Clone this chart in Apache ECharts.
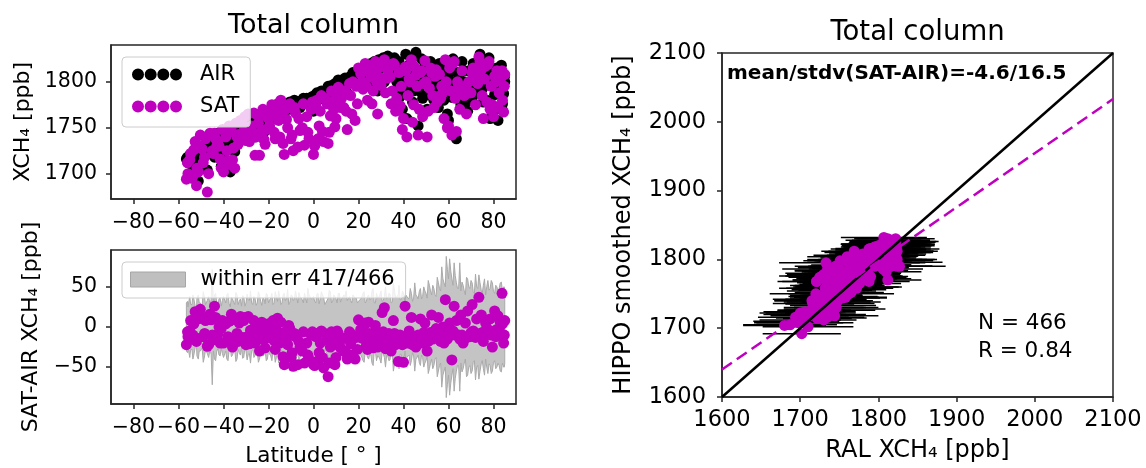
<!DOCTYPE html>
<html>
<head>
<meta charset="utf-8">
<title>Total column</title>
<script src="https://cdn.jsdelivr.net/npm/echarts@6/dist/echarts.min.js"></script>
<style>
  html, body { margin: 0; padding: 0; background: #fff; }
  #chart { width: 1146px; height: 468px; }
</style>
</head>
<body>
<div id="chart"></div>
<script>
// latitude of each profile [deg] (two blocks of flights)
const lat = [
  -56.5, -55.8, -55.0, -54.0, -53.2, -52.0, -51.2, -50.3, -49.5, -48.4, -47.2, -46.0, -45.0, -44.0, -43.0, -42.0, -41.0, -40.0,
  -39.0, -38.0, -37.0, -36.0, -35.0, -34.0, -33.0, -32.0, -31.0, -30.0, -29.0, -28.0, -27.0, -26.0, -25.0, -24.0, -23.0, -22.0, -21.0, -20.0,
  -19.0, -18.0, -17.0, -16.0, -15.0, -14.0, -13.0, -12.0, -11.0, -10.0, -9.0, -8.0, -7.0, -6.0, -5.0, -4.0, -3.0, -2.0, -1.0,
  0.0, 1.0, 2.0, 3.0, 4.0, 5.0, 6.5, 7.5, 8.5, 9.5, 10.5, 11.5, 12.5, 13.5, 15.0, 16.0, 17.0, 18.5, 20.0,
  21.0, 22.0, 23.0, 24.0, 25.0, 26.0, 27.5, 28.5, 29.5, 30.5, 31.5, 32.5, 33.5, 34.5, 35.5, 36.5, 37.7, 38.5, 39.5, 40.7, 41.5, 42.5, 43.5, 44.5,
  45.5, 46.5, 47.5, 48.5, 49.5, 50.5, 51.5, 52.5, 53.5, 54.5, 55.5, 56.5, 57.5, 58.6, 59.5, 60.5, 61.5, 62.5, 63.5, 64.5,
  65.5, 66.5, 67.5, 68.5, 69.5, 70.5, 71.5, 72.5, 73.5, 74.6, 75.5, 76.5, 77.5, 78.5, 79.5, 80.5, 81.5, 82.0, 83.0, 83.8, 84.5, 85.0,
  // second block
  -56.0, -54.6, -53.6, -52.6, -51.8, -50.8, -49.0, -48.0, -46.6, -45.5, -44.5, -43.5, -42.5, -41.5, -40.5, -38.5, -37.5,
  -36.5, -35.5, -34.5, -33.5, -32.5, -31.5, -30.5, -29.5, -28.5, -27.5, -26.5, -25.5, -24.5, -23.5, -22.5, -21.5, -20.5,
  -19.5, -18.5, -17.5, -16.5, -15.5, -14.5, -13.5, -12.5, -11.5, -10.5, -9.5, -8.5, -6.5, -4.5, -2.5, -0.5,
  0.5, 1.5, 2.5, 3.5, 4.5, 6.0, 7.0, 8.0, 9.0, 10.0, 11.0, 12.0, 14.0, 14.5, 16.5, 17.5, 19.0, 19.5,
  21.5, 22.5, 23.5, 24.5, 25.5, 26.5, 27.0, 28.0, 29.0, 30.0, 31.0, 32.0, 33.0, 34.0, 35.0, 36.0, 37.0, 38.0, 39.0, 40.0,
  41.0, 42.0, 43.0, 44.0, 45.0, 46.0, 47.0, 48.0, 49.0, 50.0, 51.0, 52.0, 53.0, 54.0, 55.0, 56.0, 57.0, 58.0, 59.0, 60.0,
  61.0, 62.0, 63.0, 64.0, 65.0, 66.0, 67.0, 68.0, 69.0, 70.0, 71.0, 72.0, 73.0, 74.0, 75.0, 76.0, 77.0, 78.0, 79.0, 80.0,
  81.0, 82.5, 83.5, 84.0, 84.8
];
// HIPPO (aircraft) smoothed XCH4 [ppb]
const air = [
  1716, 1712, 1720, 1710, 1722, 1705, 1692, 1720, 1715, 1726, 1704, 1728, 1735, 1718, 1742, 1730, 1708, 1722,
  1736, 1726, 1702, 1740, 1724, 1748, 1738, 1752, 1744, 1758, 1752, 1746, 1755, 1740, 1762, 1750, 1758, 1745, 1762, 1756,
  1765, 1760, 1766, 1765, 1760, 1772, 1768, 1774, 1770, 1776, 1774, 1778, 1776, 1772, 1780, 1776, 1782, 1778, 1780,
  1768, 1786, 1780, 1788, 1784, 1790, 1795, 1788, 1794, 1798, 1792, 1800, 1796, 1802, 1788, 1804, 1800, 1798, 1806,
  1812, 1804, 1815, 1808, 1818, 1796, 1820, 1790, 1814, 1800, 1800, 1822, 1824, 1806, 1812, 1790, 1812, 1784, 1770, 1790, 1760, 1808, 1812, 1790,
  1832, 1752, 1800, 1782, 1818, 1770, 1805, 1795, 1780, 1815, 1772, 1800, 1788, 1790, 1765, 1810, 1783, 1796, 1738, 1805,
  1775, 1812, 1790, 1768, 1800, 1782, 1815, 1795, 1790, 1798, 1778, 1812, 1825, 1760, 1800, 1786, 1815, 1758, 1796, 1770, 1787, 1800,
  1718, 1714, 1708, 1716, 1720, 1712, 1724, 1730, 1722, 1733, 1738, 1726, 1744, 1736, 1740, 1742, 1745,
  1730, 1748, 1744, 1750, 1745, 1755, 1750, 1760, 1756, 1762, 1758, 1754, 1764, 1760, 1766, 1758, 1768,
  1764, 1770, 1762, 1772, 1766, 1774, 1770, 1776, 1772, 1778, 1774, 1780, 1778, 1782, 1780, 1784,
  1778, 1788, 1784, 1790, 1786, 1792, 1790, 1796, 1792, 1798, 1802, 1798, 1804, 1800, 1806, 1810, 1808, 1804,
  1814, 1810, 1818, 1812, 1820, 1816, 1822, 1812, 1824, 1818, 1826, 1815, 1828, 1820, 1810, 1826, 1800, 1822, 1815, 1804,
  1830, 1798, 1820, 1778, 1828, 1812, 1790, 1825, 1805, 1818, 1786, 1822, 1800, 1812, 1790, 1820, 1805, 1780, 1815, 1758,
  1800, 1825, 1792, 1810, 1785, 1822, 1800, 1778, 1812, 1795, 1820, 1788, 1808, 1830, 1792, 1814, 1780, 1826, 1805, 1768,
  1812, 1792, 1818, 1776, 1805
];
// RAL (satellite) XCH4 [ppb]
const sat = [
  1694, 1700, 1715, 1695, 1726, 1687, 1702, 1742, 1727, 1718, 1680, 1744, 1725, 1744, 1730, 1730, 1706, 1702,
  1740, 1714, 1710, 1715, 1706, 1740, 1743, 1738, 1752, 1736, 1765, 1742, 1745, 1720, 1764, 1720, 1764, 1737, 1748, 1760,
  1762, 1768, 1738, 1776, 1740, 1764, 1721, 1759, 1772, 1738, 1725, 1766, 1729, 1747, 1750, 1731, 1762, 1738, 1770,
  1721, 1774, 1738, 1768, 1746, 1782, 1733, 1763, 1779, 1751, 1787, 1780, 1782, 1772, 1748, 1798, 1765, 1758, 1815,
  1809, 1792, 1820, 1780, 1810, 1776, 1822, 1765, 1804, 1818, 1824, 1804, 1816, 1776, 1820, 1768, 1769, 1774, 1748, 1816, 1740, 1803, 1824, 1775,
  1807, 1742, 1810, 1762, 1823, 1740, 1793, 1810, 1772, 1813, 1784, 1782, 1788, 1824, 1750, 1815, 1742, 1822, 1746, 1795,
  1790, 1792, 1795, 1788, 1788, 1810, 1807, 1805, 1827, 1813, 1760, 1817, 1819, 1770, 1775, 1806, 1812, 1772, 1802, 1812, 1767, 1808,
  1712, 1722, 1698, 1735, 1706, 1730, 1712, 1738, 1700, 1742, 1722, 1738, 1735, 1716, 1748, 1725, 1752,
  1746, 1728, 1755, 1732, 1758, 1742, 1762, 1748, 1735, 1752, 1766, 1740, 1755, 1745, 1770, 1732, 1762,
  1752, 1775, 1745, 1768, 1758, 1780, 1733, 1770, 1750, 1776, 1742, 1772, 1760, 1776, 1745, 1778,
  1730, 1780, 1752, 1785, 1735, 1776, 1745, 1790, 1770, 1760, 1794, 1772, 1790, 1768, 1785, 1800, 1795, 1776,
  1800, 1812, 1795, 1818, 1805, 1790, 1812, 1800, 1815, 1796, 1820, 1788, 1812, 1805, 1790, 1818, 1782, 1810, 1795, 1760,
  1812, 1785, 1800, 1756, 1816, 1795, 1770, 1812, 1798, 1800, 1768, 1815, 1785, 1806, 1778, 1808, 1795, 1760, 1800, 1752,
  1790, 1820, 1782, 1800, 1770, 1812, 1785, 1765, 1800, 1788, 1815, 1775, 1798, 1822, 1785, 1803, 1778, 1822, 1795, 1762,
  1800, 1788, 1806, 1780, 1795
];
// error of the difference (grey band) [ppb]
const errDiff = [
  30, 25, 38, 28, 35, 22, 40, 30, 26, 36, 33, 28, 72, 40, 30, 35, 26, 38,
  30, 42, 25, 35, 28, 40, 32, 26, 38, 30, 34, 45, 28, 36, 30, 40, 27, 35, 42, 30,
  36, 28, 44, 32, 38, 30, 42, 35, 28, 40, 33, 45, 30, 38, 34, 42, 30, 40, 35,
  38, 30, 42, 35, 40, 28, 36, 44, 32, 38, 30, 42, 35, 40, 33, 38, 30, 36, 32,
  35, 42, 30, 38, 34, 45, 30, 36, 40, 32, 38, 35, 42, 30, 55, 36, 40, 34, 45, 30, 38, 35, 42, 36,
  40, 35, 48, 38, 45, 36, 52, 40, 48, 38, 55, 45, 60, 50, 72, 85, 60, 80, 55, 48,
  45, 52, 40, 60, 48, 55, 42, 50, 65, 45, 52, 40, 58, 48, 55, 42, 50, 45, 55, 48, 50, 45,
  32, 28, 40, 26, 36, 30, 44, 28, 38, 34, 30, 42, 27, 36, 33, 40, 29,
  37, 31, 43, 28, 35, 39, 26, 41, 33, 30, 38, 27, 44, 32, 36, 29, 40,
  34, 42, 30, 38, 45, 28, 40, 33, 47, 31, 39, 35, 43, 30, 48, 36,
  32, 41, 29, 44, 37, 33, 46, 30, 40, 35, 42, 31, 38, 45, 33, 40, 36, 30,
  38, 44, 32, 40, 35, 48, 30, 42, 37, 45, 33, 50, 36, 41, 31, 46, 38, 52, 34, 43,
  40, 36, 48, 32, 55, 38, 44, 35, 50, 42, 58, 45, 52, 40, 62, 48, 75, 55, 88, 60,
  70, 52, 64, 48, 80, 56, 45, 62, 50, 58, 44, 66, 48, 55, 42, 60, 50, 46, 58, 44,
  52, 48, 56, 45, 50
];
// satellite error (horizontal bars, right panel) [ppb]
const errSat = [
  48, 52, 40, 55, 45, 60, 50, 42, 58, 47, 53, 65, 44, 56, 49, 51, 62, 46,
  55, 43, 58, 48, 52, 40, 60, 45, 50, 54, 42, 57, 47, 53, 44, 59, 49, 45, 55, 50,
  46, 58, 42, 53, 49, 60, 44, 51, 47, 55, 40, 56, 48, 52, 45, 58, 43, 50, 54,
  50, 45, 57, 42, 53, 48, 60, 44, 52, 47, 55, 41, 58, 46, 51, 43, 56, 49, 45,
  52, 47, 58, 43, 50, 55, 46, 53, 41, 57, 48, 52, 44, 59, 47, 51, 42, 56, 49, 53, 45, 58, 47, 50,
  55, 46, 52, 60, 44, 50, 57, 43, 53, 48, 58, 45, 51, 62, 47, 55, 49, 60, 44, 52,
  48, 56, 43, 52, 58, 45, 50, 55, 42, 57, 49, 53, 46, 60, 44, 51, 55, 47, 58, 43, 52, 48,
  50, 44, 57, 47, 53, 42, 59, 46, 52, 55, 43, 58, 48, 51, 45, 60, 49,
  54, 41, 56, 47, 53, 44, 58, 50, 46, 55, 42, 57, 49, 52, 45, 59, 48,
  53, 46, 58, 44, 51, 56, 42, 59, 48, 52, 45, 57, 49, 54, 43, 60,
  47, 50, 55, 44, 58, 46, 52, 49, 56, 42, 54, 48, 59, 45, 51, 57, 44, 50,
  47, 55, 43, 58, 50, 45, 60, 48, 53, 42, 57, 49, 54, 46, 59, 44, 52, 56, 48, 51,
  43, 58, 47, 55, 50, 45, 60, 49, 53, 44, 57, 48, 52, 46, 59, 43, 55, 50, 47, 58,
  45, 53, 49, 56, 42, 60, 48, 51, 55, 44, 57, 47, 53, 50, 46, 58, 43, 52, 49, 56,
  45, 54, 48, 51, 47
];

const latTicks = [-80, -60, -40, -20, 0, 20, 40, 60, 80];
const xchTicks = [1700, 1750, 1800];
const diffTicks = [-50, 0, 50];
// 1:1 line and fitted line (right panel)
const oneToOne = [[1600, 1600], [2100, 2100]];
const fitLine = [[1600, 1640], [2100, 2033]];

const FONT = '"DejaVu Sans", sans-serif';
const MAG = '#bf00bf';
const FRAME = '#262626';
const minus = v => (v < 0 ? '\u2212' + (-v) : String(v));
const plain = v => String(v);

// four dots like the matplotlib scatter legend marker
const dots4 = 'path://' + [6, 18.67, 31.33, 44].map(c =>
  'M' + (c - 6) + ',6 a6,6 0 1,0 12,0 a6,6 0 1,0 -12,0 Z').join(' ');

const airPts = lat.map((v, i) => [v, air[i]]);
const satPts = lat.map((v, i) => [v, sat[i]]);
const diffPts = lat.map((v, i) => [v, sat[i] - air[i]]);
const pairPts = sat.map((v, i) => [v, air[i]]);
const errPts = sat.map((v, i) => [v, air[i], errSat[i]]);
// band goes along latitude, so walk the profiles in latitude order
const order = lat.map((v, i) => i).sort((a, b) => lat[a] - lat[b]);

function axisBase() {
  return {
    type: 'value',
    axisLine: { show: true, onZero: false, lineStyle: { color: FRAME, width: 1.5 } },
    axisTick: { show: true, inside: false, length: 5, lineStyle: { color: FRAME, width: 1.5 } },
    splitLine: { show: false },
    axisLabel: { color: '#000', fontSize: 20.5, fontFamily: FONT },
    nameTextStyle: { color: '#000', fontFamily: FONT }
  };
}

const myChart = echarts.init(document.getElementById('chart'), null, { renderer: 'canvas' });

const option = {
  animation: false,
  backgroundColor: '#fff',
  textStyle: { fontFamily: FONT },
  grid: [
    { left: 111, top: 45, width: 405, height: 154, show: true, borderColor: FRAME, borderWidth: 1.5 },
    { left: 111, top: 250, width: 405, height: 154, show: true, borderColor: FRAME, borderWidth: 1.5 },
    { left: 722, top: 53, width: 391, height: 348, show: true, borderColor: FRAME, borderWidth: 1.5 }
  ],
  xAxis: [
    Object.assign(axisBase(), {
      gridIndex: 0, min: -90, max: 90,
      axisLabel: { color: '#000', fontSize: 20.5, fontFamily: FONT, margin: 13, customValues: latTicks, formatter: minus },
      axisTick: { show: true, length: 5, customValues: latTicks, lineStyle: { color: FRAME, width: 1.5 } }
    }),
    Object.assign(axisBase(), {
      gridIndex: 1, min: -90, max: 90,
      name: 'Latitude [ \u00b0 ]', nameLocation: 'middle', nameGap: 41,
      nameTextStyle: { color: '#000', fontSize: 21.5, fontFamily: FONT },
      axisLabel: { color: '#000', fontSize: 20.5, fontFamily: FONT, margin: 13, customValues: latTicks, formatter: minus },
      axisTick: { show: true, length: 5, customValues: latTicks, lineStyle: { color: FRAME, width: 1.5 } }
    }),
    Object.assign(axisBase(), {
      gridIndex: 2, min: 1600, max: 2100, interval: 100,
      name: 'RAL XCH\u2084 [ppb]', nameLocation: 'middle', nameGap: 42,
      nameTextStyle: { color: '#000', fontSize: 24, fontFamily: FONT },
      axisLabel: { color: '#000', fontSize: 22.5, fontFamily: FONT, margin: 12, formatter: plain }
    })
  ],
  yAxis: [
    Object.assign(axisBase(), {
      gridIndex: 0, min: 1672.5, max: 1840,
      name: 'XCH\u2084 [ppb]', nameLocation: 'middle', nameGap: 77,
      nameTextStyle: { color: '#000', fontSize: 22, fontFamily: FONT },
      axisLabel: { color: '#000', fontSize: 20.5, fontFamily: FONT, margin: 14, customValues: xchTicks, formatter: plain },
      axisTick: { show: true, length: 5, customValues: xchTicks, lineStyle: { color: FRAME, width: 1.5 } }
    }),
    Object.assign(axisBase(), {
      gridIndex: 1, min: -96, max: 96,
      name: 'SAT-AIR XCH\u2084 [ppb]', nameLocation: 'middle', nameGap: 69,
      nameTextStyle: { color: '#000', fontSize: 22, fontFamily: FONT },
      axisLabel: { color: '#000', fontSize: 20.5, fontFamily: FONT, margin: 14, customValues: diffTicks, formatter: minus },
      axisTick: { show: true, length: 5, customValues: diffTicks, lineStyle: { color: FRAME, width: 1.5 } }
    }),
    Object.assign(axisBase(), {
      gridIndex: 2, min: 1600, max: 2100, interval: 100,
      name: 'HIPPO smoothed XCH\u2084 [ppb]', nameLocation: 'middle', nameGap: 86,
      nameTextStyle: { color: '#000', fontSize: 24, fontFamily: FONT },
      axisLabel: { color: '#000', fontSize: 22.5, fontFamily: FONT, margin: 16, formatter: plain }
    })
  ],
  legend: [
    {
      data: [{ name: 'AIR', icon: dots4 }, { name: 'SAT', icon: dots4 }],
      orient: 'vertical', left: 122, top: 57,
      itemWidth: 50, itemHeight: 12, itemGap: 11,
      padding: [7, 11, 10, 10],
      backgroundColor: 'rgba(255,255,255,0.8)', borderColor: '#cccccc', borderWidth: 1, borderRadius: 4,
      textStyle: { fontSize: 21, color: '#000', fontFamily: FONT, padding: [0, 0, 0, 13] },
      selectedMode: false
    },
    {
      data: [{ name: 'within err 417/466', icon: 'rect',
        itemStyle: { color: '#bfbfbf', borderColor: '#a6a6a6', borderWidth: 1 } }],
      left: 122, top: 262,
      itemWidth: 55, itemHeight: 15,
      padding: [7, 11, 8, 8],
      backgroundColor: 'rgba(255,255,255,0.8)', borderColor: '#cccccc', borderWidth: 1, borderRadius: 4,
      textStyle: { fontSize: 21, color: '#000', fontFamily: FONT, padding: [0, 0, 0, 10] },
      selectedMode: false
    }
  ],
  graphic: [
    { type: 'text', x: 313.5, y: 25.5, z: 100,
      style: { text: 'Total column', fontSize: 27, fontFamily: FONT, fill: '#000', align: 'center', verticalAlign: 'middle' } },
    { type: 'text', x: 917.5, y: 32.5, z: 100,
      style: { text: 'Total column', fontSize: 27.5, fontFamily: FONT, fill: '#000', align: 'center', verticalAlign: 'middle' } },
    { type: 'text', x: 727, y: 73.5, z: 100,
      style: { text: 'mean/stdv(SAT-AIR)=-4.6/16.5', fontSize: 20, fontWeight: 'bold', fontFamily: FONT, fill: '#000', align: 'left', verticalAlign: 'middle' } },
    { type: 'text', x: 978, y: 323.5, z: 100,
      style: { text: 'N = 466', fontSize: 21.5, fontFamily: FONT, fill: '#000', align: 'left', verticalAlign: 'middle' } },
    { type: 'text', x: 978, y: 351, z: 100,
      style: { text: 'R = 0.84', fontSize: 21.5, fontFamily: FONT, fill: '#000', align: 'left', verticalAlign: 'middle' } }
  ],
  series: [
    {
      name: 'AIR', type: 'scatter', xAxisIndex: 0, yAxisIndex: 0,
      data: airPts, symbolSize: 11, itemStyle: { color: '#000', opacity: 1 }
    },
    {
      name: 'SAT', type: 'scatter', xAxisIndex: 0, yAxisIndex: 0,
      data: satPts, symbolSize: 11, itemStyle: { color: MAG, opacity: 1 }
    },
    {
      // +/- err band, drawn as one polygon through the axis scales
      name: 'within err 417/466', type: 'custom', xAxisIndex: 1, yAxisIndex: 1,
      data: [[0, 0]],
      itemStyle: { color: '#bfbfbf' },
      renderItem: function (params, api) {
        if (params.dataIndex !== 0) return;
        const pts = [];
        order.forEach(i => pts.push(api.coord([lat[i], errDiff[i]])));
        order.slice().reverse().forEach(i => pts.push(api.coord([lat[i], -errDiff[i]])));
        return {
          type: 'polygon',
          shape: { points: pts },
          style: { fill: '#c4c4c4', stroke: '#aaaaaa', lineWidth: 1 }
        };
      }
    },
    {
      name: 'SAT-AIR', type: 'scatter', xAxisIndex: 1, yAxisIndex: 1,
      data: diffPts, symbolSize: 11, itemStyle: { color: MAG, opacity: 1 }
    },
    {
      // horizontal error bars
      name: 'xerr', type: 'custom', xAxisIndex: 2, yAxisIndex: 2,
      data: errPts, encode: { x: 0, y: 1 },
      renderItem: function (params, api) {
        const x = api.value(0), y = api.value(1), e = api.value(2);
        const p1 = api.coord([x - e, y]);
        const p2 = api.coord([x + e, y]);
        return {
          type: 'line',
          shape: { x1: p1[0], y1: p1[1], x2: p2[0], y2: p2[1] },
          style: { stroke: '#000', lineWidth: 1.5 }
        };
      }
    },
    {
      name: '1:1', type: 'line', xAxisIndex: 2, yAxisIndex: 2,
      data: oneToOne, symbol: 'none', silent: true,
      lineStyle: { color: '#000', width: 2.5 }
    },
    {
      name: 'fit', type: 'line', xAxisIndex: 2, yAxisIndex: 2,
      data: fitLine, symbol: 'none', silent: true,
      lineStyle: { color: MAG, width: 2.5, type: [12, 6] }
    },
    {
      name: 'RAL vs HIPPO', type: 'scatter', xAxisIndex: 2, yAxisIndex: 2,
      data: pairPts, symbolSize: 11, itemStyle: { color: MAG, opacity: 1 }
    }
  ]
};

myChart.setOption(option);
</script>
</body>
</html>
